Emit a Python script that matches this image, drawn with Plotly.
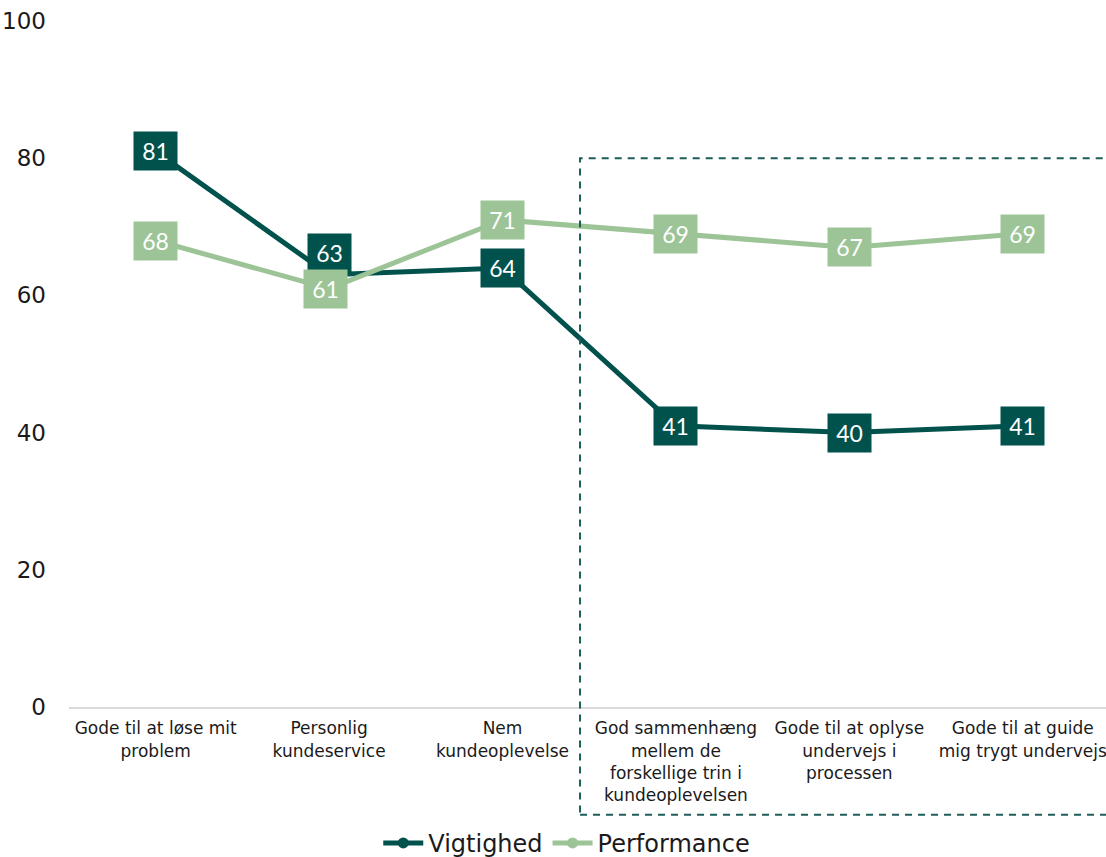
import plotly.graph_objects as go

# Categories (x axis) and the two series
categories = [
    "Gode til at løse mit<br>problem",
    "Personlig<br>kundeservice",
    "Nem<br>kundeoplevelse",
    "God sammenhæng<br>mellem de<br>forskellige trin i<br>kundeoplevelsen",
    "Gode til at oplyse<br>undervejs i<br>processen",
    "Gode til at guide<br>mig trygt undervejs",
]
vigtighed = [81, 63, 64, 41, 40, 41]
performance = [68, 61, 71, 69, 67, 69]
y_ticks = [0, 20, 40, 60, 80, 100]

DARK = "#01514C"
LIGHT = "#9DC497"
TEXT = "#1a1a1a"
FONT = "DejaVu Sans"

x_idx = list(range(len(categories)))

fig = go.Figure()
fig.add_trace(go.Scatter(
    x=x_idx, y=vigtighed, name="Vigtighed", mode="lines+markers",
    line=dict(color=DARK, width=5), marker=dict(color=DARK, size=11, symbol="circle"),
    hoverinfo="skip",
))
fig.add_trace(go.Scatter(
    x=x_idx, y=performance, name="Performance", mode="lines+markers",
    line=dict(color=LIGHT, width=5), marker=dict(color=LIGHT, size=11, symbol="circle"),
    hoverinfo="skip",
))

# Value boxes centred on each point; the two overlapping labels are nudged apart
shifts_v = {1: (0, 22)}
shifts_p = {1: (-4, 0)}
for series, color, shifts in ((vigtighed, DARK, shifts_v), (performance, LIGHT, shifts_p)):
    for i, v in enumerate(series):
        dx, dy = shifts.get(i, (0, 0))
        fig.add_annotation(
            x=i, y=v, xref="x", yref="y", text=str(v), showarrow=False,
            bgcolor=color, width=43, height=38, borderpad=0,
            font=dict(family="Lato", size=23, color="white"),
            xshift=dx, yshift=dy, align="center", valign="middle",
        )

# Dashed frame around the last three categories
fig.add_shape(
    type="rect", xref="paper", yref="paper",
    x0=0.4928, x1=1.03, y0=-0.157, y1=0.8,
    line=dict(color="#1E5E5A", width=2, dash="7px,6px"),
    fillcolor="rgba(0,0,0,0)", layer="above",
)

fig.update_layout(
    width=1106, height=857,
    margin=dict(l=69, r=0, t=21, b=150, autoexpand=False),
    paper_bgcolor="white", plot_bgcolor="white",
    font=dict(family=FONT, color=TEXT),
    showlegend=True,
    legend=dict(
        orientation="h", x=0.48, xanchor="center", y=-0.166, yanchor="top",
        font=dict(family=FONT, size=24, color=TEXT),
        itemwidth=40, tracegroupgap=0,
    ),
    xaxis=dict(
        range=[-0.5, 5.48], tickmode="array", tickvals=x_idx, ticktext=categories,
        showgrid=False, zeroline=False, showline=True, linecolor="#d9d9d9", linewidth=2,
        ticks="", tickfont=dict(family=FONT, size=17, color=TEXT),
        ticklabeloverflow="allow", ticklabelstandoff=5,
    ),
    yaxis=dict(
        range=[0, 100], tickmode="array", tickvals=y_ticks,
        showgrid=False, zeroline=False, showline=False, ticks="",
        tickfont=dict(family=FONT, size=23, color=TEXT), ticklabelstandoff=22,
    ),
)

fig.write_html("out.html")
